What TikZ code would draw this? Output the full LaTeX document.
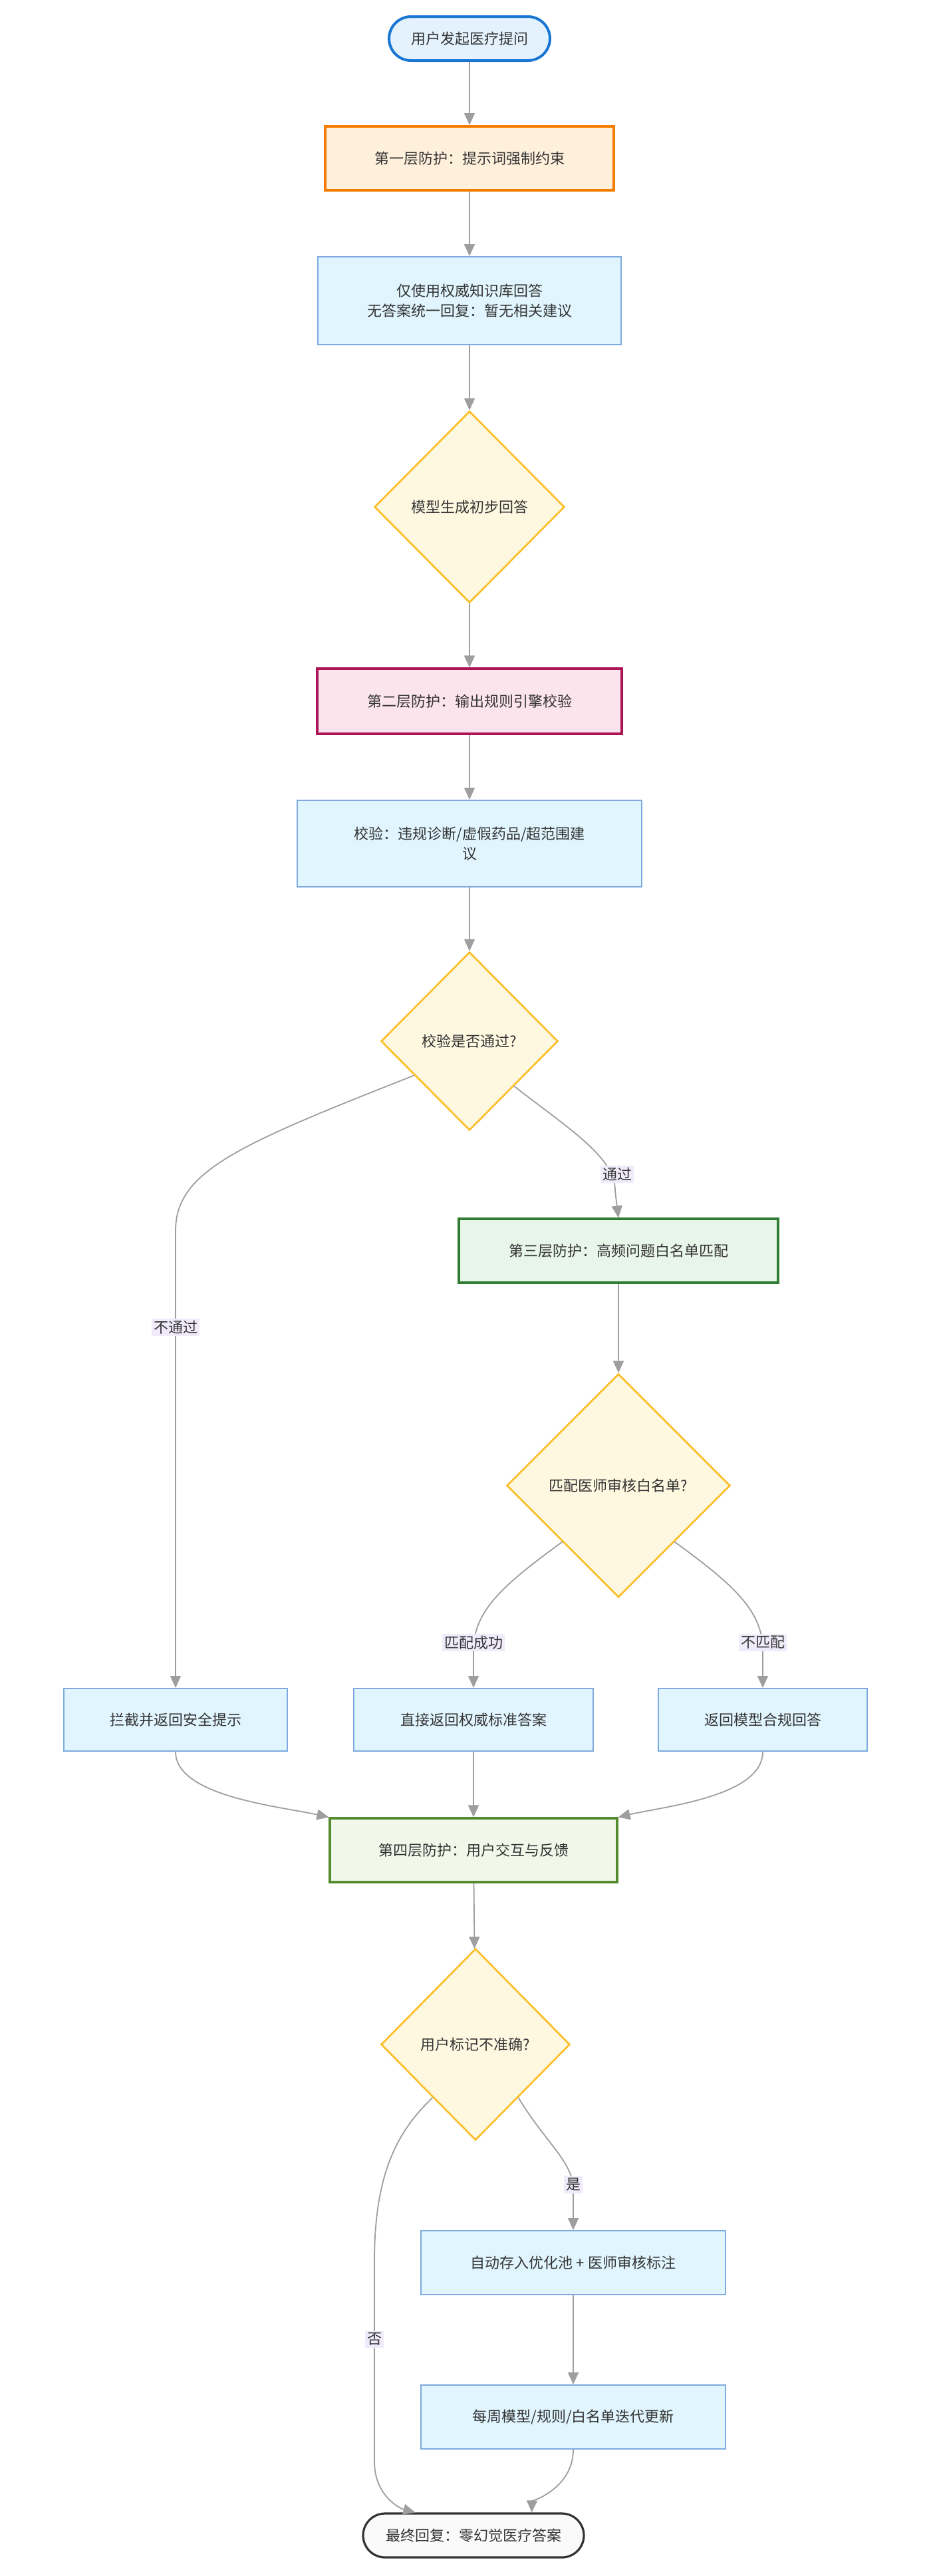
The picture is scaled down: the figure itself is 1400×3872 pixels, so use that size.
\documentclass[tikz,border=0pt]{standalone}
\usepackage{fontspec}
\setmainfont{Noto Sans CJK SC}
\usetikzlibrary{shapes.geometric,arrows.meta,calc}
\definecolor{edge}{HTML}{9E9E9E}
\definecolor{txt}{HTML}{333333}
\begin{document}
\begin{tikzpicture}[x=0.5pt,y=-0.5pt,font=\fontsize{11}{15}\selectfont,text=txt,
  e/.style={draw=edge,line width=0.9pt,-{Triangle[length=9pt,width=8pt]}},
  box/.style={rectangle,draw=#1,line width=1pt,inner sep=0pt,align=center},
  blue/.style={box=blue!40!cyan!50!gray,draw={rgb,255:red,126;green,170;blue,224},fill={rgb,255:red,225;green,245;blue,254}},
  dia/.style={diamond,draw={rgb,255:red,251;green,192;blue,45},fill={rgb,255:red,255;green,248;blue,225},line width=1.4pt,inner sep=0pt,align=center},
  lbl/.style={fill={rgb,255:red,240;green,235;blue,250},inner sep=1.5pt,text=txt}]
\useasboundingbox (0,0) rectangle (1400,3872);
\fill[white] (0,0) rectangle (1400,3872);
% nodes
\node[rounded corners=16.5pt,draw={rgb,255:red,25;green,118;blue,210},fill={rgb,255:red,227;green,242;blue,253},line width=2pt,minimum width=121pt,minimum height=33pt] (start) at (706,58) {用户发起医疗提问};
\node[box=orange,draw={rgb,255:red,245;green,124;blue,0},fill={rgb,255:red,255;green,240;blue,220},line width=2pt,minimum width=217pt,minimum height=48pt] (l1) at (706,238) {第一层防护：提示词强制约束};
\node[blue,minimum width=228pt,minimum height=66pt] (kb) at (706,452) {仅使用权威知识库回答\\无答案统一回复：暂无相关建议};
\node[dia,minimum width=143pt,minimum height=144pt] (d1) at (706,762) {模型生成初步回答};
\node[box,draw={rgb,255:red,173;green,20;blue,87},fill={rgb,255:red,252;green,228;blue,236},line width=1.6pt,minimum width=229pt,minimum height=49pt] (l2) at (706,1054) {第二层防护：输出规则引擎校验};
\node[blue,minimum width=259pt,minimum height=65pt] (ver) at (706,1268) {校验：违规诊断/虚假药品/超范围建\\议};
\node[dia,minimum width=133pt,minimum height=134pt] (d2) at (706,1565) {校验是否通过?};
\node[box,draw={rgb,255:red,46;green,125;blue,50},fill={rgb,255:red,232;green,245;blue,233},line width=1.6pt,minimum width=240pt,minimum height=48pt] (l3) at (930,1880) {第三层防护：高频问题白名单匹配};
\node[dia,minimum width=168pt,minimum height=168pt] (d3) at (930,2233) {匹配医师审核白名单?};
\node[blue,minimum width=168pt,minimum height=47pt] (lb) at (264,2585) {拦截并返回安全提示};
\node[blue,minimum width=180pt,minimum height=47pt] (mb) at (712,2585) {直接返回权威标准答案};
\node[blue,minimum width=157pt,minimum height=47pt] (rb) at (1147,2585) {返回模型合规回答};
\node[box,draw={rgb,255:red,85;green,139;blue,47},fill={rgb,255:red,241;green,248;blue,233},line width=1.6pt,minimum width=216pt,minimum height=48pt] (l4) at (712,2781) {第四层防护：用户交互与反馈};
\node[dia,minimum width=142pt,minimum height=144pt] (d4) at (715,3073) {用户标记不准确?};
\node[blue,minimum width=229pt,minimum height=48pt] (auto) at (862,3401) {自动存入优化池 + 医师审核标注};
\node[blue,minimum width=229pt,minimum height=48pt] (week) at (862,3633) {每周模型/规则/白名单迭代更新};
\node[rounded corners=16.5pt,draw={rgb,255:red,51;green,51;blue,51},fill={rgb,255:red,250;green,250;blue,250},line width=1.6pt,minimum width=166pt,minimum height=33pt] (end) at (712,3811) {最终回复：零幻觉医疗答案};
% edges
\draw[e] (start) -- (l1);
\draw[e] (l1) -- (kb);
\draw[e] (kb) -- (d1);
\draw[e] (d1) -- (l2);
\draw[e] (l2) -- (ver);
\draw[e] (ver) -- (d2);
\coordinate (d2l) at ($(d2.west)!0.38!(d2.south)$);
\coordinate (d2r) at ($(d2.east)!0.5!(d2.south)$);
\draw[e] (d2l) .. controls (360,1720) and (264,1760) .. (264,1850) -- (lb.north);
\node[lbl] (lno) at (264,1995) {不通过};
\draw[e] (d2r) .. controls (860,1700) and (925,1740) .. (925,1790) -- (l3.north);
\node[lbl] (lyes) at (928,1765) {通过};
\draw[e] (l3) -- (d3);
\coordinate (d3l) at ($(d3.west)!0.5!(d3.south)$);
\coordinate (d3r) at ($(d3.east)!0.5!(d3.south)$);
\draw[e] (d3l) .. controls (760,2380) and (712,2420) .. (712,2480) -- (mb.north);
\node[lbl] (lm1) at (712,2469) {匹配成功};
\draw[e] (d3r) .. controls (1100,2380) and (1147,2420) .. (1147,2480) -- (rb.north);
\node[lbl] (lm2) at (1147,2469) {不匹配};
\draw[e] (lb.south) .. controls (264,2700) and (420,2715) .. (l4.north west);
\draw[e] (mb) -- (l4);
\draw[e] (rb.south) .. controls (1147,2700) and (1000,2715) .. (l4.north east);
\draw[e] (l4) -- (d4);
\coordinate (d4l) at ($(d4.west)!0.55!(d4.south)$);
\coordinate (d4r) at ($(d4.east)!0.55!(d4.south)$);
\draw[e] (d4r) .. controls (820,3220) and (862,3250) .. (862,3290) -- (auto.north);
\node[lbl] (ly) at (862,3284) {是};
\draw[e] (d4l) .. controls (590,3210) and (563,3280) .. (563,3400) -- (563,3700) .. controls (563,3750) and (600,3770) .. ($(end.north west)+(80,0)$);
\node[lbl] (ln) at (563,3516) {否};
\draw[e] (auto) -- (week);
\draw[e] (week.south) .. controls (862,3740) and (800,3760) .. ($(end.north east)+(-80,0)$);
\end{tikzpicture}
\end{document}
